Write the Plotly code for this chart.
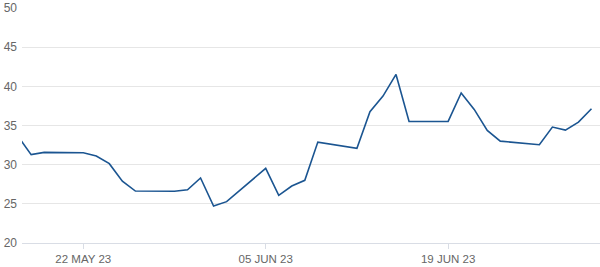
import plotly.graph_objects as go

dates = ["2023-05-17", "2023-05-18", "2023-05-19", "2023-05-22", "2023-05-23", "2023-05-24",
         "2023-05-25", "2023-05-26", "2023-05-29", "2023-05-30", "2023-05-31", "2023-06-01",
         "2023-06-02", "2023-06-05", "2023-06-06", "2023-06-07", "2023-06-08", "2023-06-09",
         "2023-06-12", "2023-06-13", "2023-06-14", "2023-06-15", "2023-06-16", "2023-06-19",
         "2023-06-20", "2023-06-21", "2023-06-22", "2023-06-23", "2023-06-26", "2023-06-27",
         "2023-06-28", "2023-06-29", "2023-06-30"]
values = [33.6, 31.28, 31.57, 31.53, 31.1, 30.13, 27.9, 26.63, 26.6, 26.8, 28.3, 24.72,
          25.28, 29.53, 26.08, 27.27, 28.0, 32.88, 32.08, 36.76, 38.75, 41.52, 35.52, 35.52,
          39.16, 37.05, 34.37, 33.0, 32.55, 34.8, 34.41, 35.43, 37.14]

tick_vals = ["2023-05-22", "2023-06-05", "2023-06-19"]
tick_text = ["22 MAY 23", "05 JUN 23", "19 JUN 23"]
y_ticks = [20, 25, 30, 35, 40, 45, 50]

fig = go.Figure()
fig.add_trace(go.Scatter(
    x=dates, y=values, mode="lines",
    line=dict(color="#1b5591", width=1.6),
    hoverinfo="skip", showlegend=False,
))

fig.update_layout(
    width=600, height=267,
    margin=dict(l=22, r=0, t=8, b=24),
    paper_bgcolor="white", plot_bgcolor="white",
    font=dict(family="Liberation Sans, Arial, sans-serif", size=12, color="#666666"),
    xaxis=dict(
        type="date",
        range=["2023-05-17 07:10", "2023-06-30 15:40"],
        tickvals=tick_vals, ticktext=tick_text,
        showgrid=False, zeroline=False,
        showline=True, linecolor="#d9dde5", linewidth=1,
        ticks="outside", ticklen=5, tickcolor="#d9dde5", tickwidth=1,
        tickfont=dict(size=11.5, color="#666666"),
    ),
    yaxis=dict(
        range=[20, 50], tickvals=y_ticks,
        showgrid=True, gridcolor="#e6e6e6", gridwidth=1,
        zeroline=False, showline=False,
        ticks="", ticklabelstandoff=4,
        tickfont=dict(size=12, color="#666666"),
    ),
)

fig.write_html("out.html")
